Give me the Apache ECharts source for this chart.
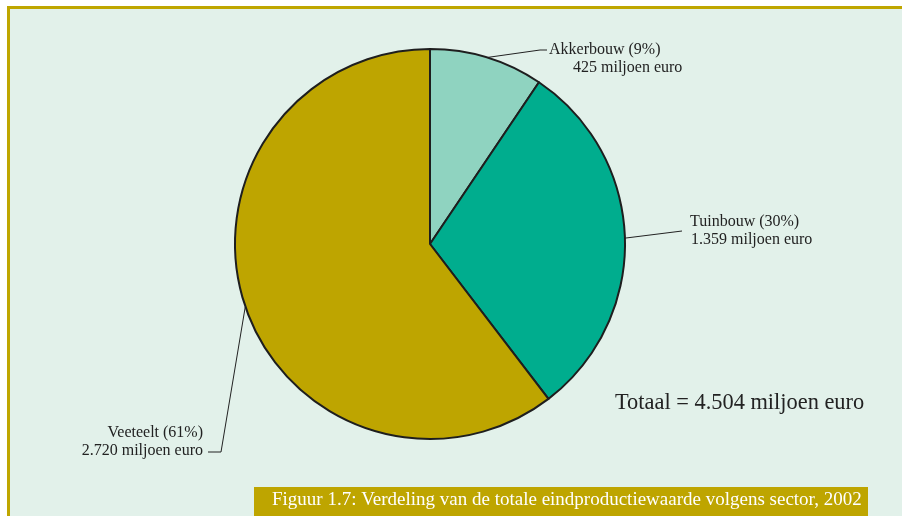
<!DOCTYPE html>
<html>
<head>
<meta charset="utf-8">
<script src="https://cdn.jsdelivr.net/npm/echarts@6/dist/echarts.min.js"></script>
<style>
  html, body { margin: 0; padding: 0; background: #fff; }
  #chart { width: 902px; height: 516px; }
</style>
</head>
<body>
<div id="chart"></div>
<script>
// sectors and their values (miljoen euro)
const sectors = ["Akkerbouw", "Tuinbouw", "Veeteelt"];
const values = [425, 1359, 2720];
const shares = [9, 30, 61];
const total = 4504;
const colors = ["#8fd3c0", "#00ad8e", "#bea500"];

// label placement (x, y of text block, where the leader line bends)
const labelSpots = [
  { x: 549, y: 41, align: "left", bend: [540, 50], end: [547, 50] },
  { x: 690, y: 213, align: "left", bend: [682, 231], end: [682, 231] },
  { x: 203, y: 424, align: "right", bend: [221, 452], end: [208, 452] }
];

const fmt = v => String(v).replace(/\B(?=(\d{3})+(?!\d))/g, ".");

const chart = echarts.init(document.getElementById("chart"));

const option = {
  backgroundColor: "#ffffff",
  animation: false,
  graphic: [
    { type: "rect", z: -10, shape: { x: 7, y: 6, width: 895, height: 510 }, style: { fill: "#bfa600" } },
    { type: "rect", z: -9, shape: { x: 10, y: 9, width: 892, height: 507 }, style: { fill: "#e2f1ea" } },
    {
      type: "text",
      left: 615,
      top: 392,
      style: {
        text: "Totaal = " + fmt(total) + " miljoen euro",
        font: "22.4px 'Liberation Serif'",
        fill: "#222"
      }
    },
    { type: "rect", shape: { x: 254, y: 487, width: 614, height: 29 }, style: { fill: "#bea500" } },
    {
      type: "text",
      left: 272,
      top: 491,
      style: {
        text: "Figuur 1.7: Verdeling van de totale eindproductiewaarde volgens sector, 2002",
        font: "19px 'Liberation Serif'",
        fill: "#ffffff"
      }
    }
  ],
  series: [
    {
      type: "pie",
      center: [430, 244],
      radius: 195,
      startAngle: 90,
      clockwise: true,
      avoidLabelOverlap: false,
      itemStyle: { borderColor: "#1e1e1e", borderWidth: 2 },
      label: {
        show: true,
        position: "outside",
        fontFamily: "Liberation Serif",
        fontSize: 16,
        color: "#222",
        lineHeight: 18,
        formatter: p => {
          const i = p.dataIndex;
          return "{a|" + p.name + " (" + shares[i] + "%)}\n{b" + i + "|" + fmt(p.value) + " miljoen euro}";
        },
        rich: {
          a: { fontFamily: "Liberation Serif", fontSize: 16, lineHeight: 18, color: "#222" },
          b0: { fontFamily: "Liberation Serif", fontSize: 16, lineHeight: 18, color: "#222", padding: [0, 0, 0, 24] },
          b1: { fontFamily: "Liberation Serif", fontSize: 16, lineHeight: 18, color: "#222", padding: [0, 0, 0, 1] },
          b2: { fontFamily: "Liberation Serif", fontSize: 16, lineHeight: 18, color: "#222" }
        }
      },
      labelLine: {
        show: true,
        lineStyle: { color: "#222", width: 1 }
      },
      labelLayout: params => {
        const s = labelSpots[params.dataIndex];
        const start = params.labelLinePoints ? params.labelLinePoints[0] : s.bend;
        return {
          x: s.x,
          y: s.y,
          align: s.align,
          verticalAlign: "top",
          labelLinePoints: [start, s.bend, s.end]
        };
      },
      emphasis: { disabled: true },
      data: sectors.map((name, i) => ({
        name: name,
        value: values[i],
        itemStyle: { color: colors[i] }
      }))
    }
  ]
};

chart.setOption(option);
</script>
</body>
</html>
